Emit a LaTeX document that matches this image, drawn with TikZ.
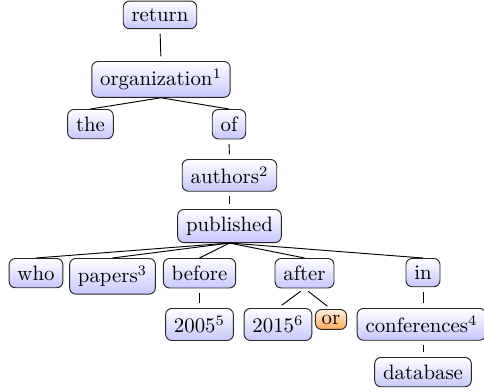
\documentclass[tikz,border=0pt]{standalone}
\usetikzlibrary{positioning}
\tikzset{
  word/.style={draw=black!85, rounded corners=3pt, top color=white, bottom color=blue!22,
    inner xsep=4pt, inner ysep=3.5pt, anchor=north, line width=0.45pt},
  orword/.style={word, top color=orange!12, bottom color=orange!65, inner xsep=3pt, inner ysep=2.5pt},
  link/.style={line width=0.45pt},
  gap/.style={link, shorten <=2.2pt, shorten >=2.2pt}
}
\begin{document}
\begin{tikzpicture}[x=0.48pt,y=-0.48pt]
\useasboundingbox (0,0) rectangle (484,391);
\node[word] (return) at (160,0.6) {return};
\node[word] (org) at (161,61) {organization$^1$};
\node[word] (the) at (90.5,109) {the};
\node[word] (of) at (229,109) {of};
\node[word] (authors) at (229.5,159) {authors$^2$};
\node[word] (published) at (229.5,209) {published};
\node[word] (who) at (36,258) {who};
\node[word] (papers) at (112.5,258) {papers$^3$};
\node[word] (before) at (199.5,258) {before};
\node[word] (after) at (304.5,258) {after};
\node[word] (in) at (423,258) {in};
\node[word] (y2005) at (199.5,308) {2005$^5$};
\node[word] (y2015) at (278,308) {2015$^6$};
\node[orword] (or) at (331,309) {or};
\node[word] (conf) at (421.5,308) {conferences$^4$};
\node[word] (database) at (423,357) {database};
\draw[gap] (return.south) -- (org.north);
\draw[link] (org.south) -- (the.north);
\draw[link] (org.south) -- (of.north);
\draw[gap] (of.south) -- (authors.north);
\draw[gap] (authors.south) -- (published.north);
\foreach \c in {who,papers,before,after,in}
  \draw[link] (published.south) -- (\c.north);
\draw[gap] (before.south) -- (y2005.north);
\draw[gap] (after.south) -- (y2015.north);
\draw[gap] (after.south) -- (or.north);
\draw[gap] (in.south) -- (in.south |- conf.north);
\draw[gap] (database.north |- conf.south) -- (database.north);
\end{tikzpicture}
\end{document}
